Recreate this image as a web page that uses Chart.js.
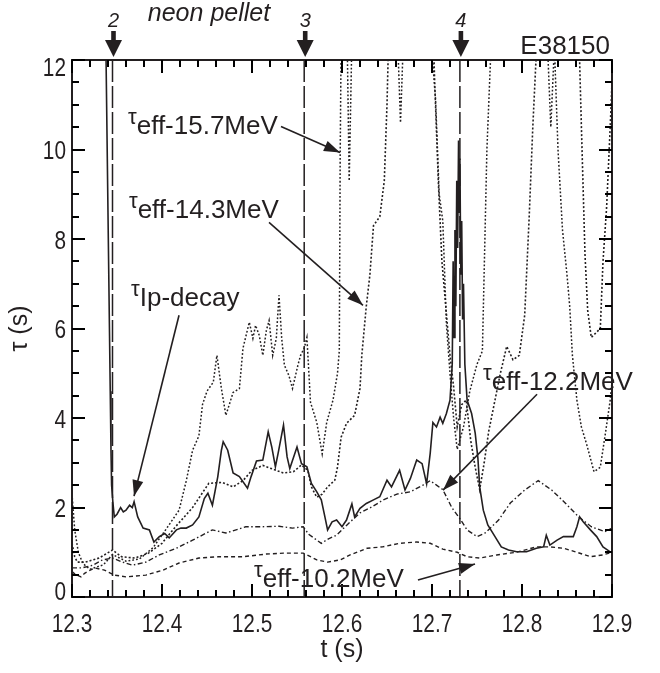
<!DOCTYPE html>
<html>
<head>
<meta charset="utf-8">
<script src="https://cdn.jsdelivr.net/npm/chart.js@4.4.1/dist/chart.umd.min.js"></script>
<style>
  body { margin: 0; background: #fff; }
  #c { display: block; }
</style>
</head>
<body>
<canvas id="c" width="660" height="673"></canvas>
<script>
// axis ticks
const xTicks = [12.3, 12.4, 12.5, 12.6, 12.7, 12.8, 12.9];
const yTicks = [0, 2, 4, 6, 8, 10, 12];

// neon pellet times (s)
const pelletNames = ["2", "3", "4"];
const pelletTimes = [12.345, 12.558, 12.731];

// tau from plasma current decay (solid)
const tIp = [12.3376, 12.3425, 12.3433, 12.344, 12.3455, 12.347, 12.350, 12.354, 12.357, 12.360,
  12.364, 12.367, 12.369, 12.373, 12.379, 12.386, 12.391, 12.397, 12.403, 12.408,
  12.416, 12.421, 12.427, 12.434, 12.441, 12.447, 12.451, 12.456, 12.462, 12.466,
  12.468, 12.473, 12.479, 12.486, 12.495, 12.499, 12.505, 12.512, 12.518, 12.522,
  12.526, 12.529, 12.535, 12.539, 12.542, 12.550, 12.555, 12.561, 12.566, 12.572,
  12.577, 12.581, 12.584, 12.589, 12.594, 12.600, 12.605, 12.611, 12.614, 12.620,
  12.627, 12.635, 12.642, 12.650, 12.655, 12.664, 12.670, 12.676, 12.683, 12.689,
  12.694, 12.698, 12.701, 12.705, 12.709, 12.712, 12.716, 12.720, 12.7225, 12.7235,
  12.7245, 12.7255, 12.7265, 12.7275, 12.7285, 12.7295, 12.7302, 12.731, 12.732, 12.733,
  12.734, 12.735, 12.7365, 12.739,
  12.744, 12.748, 12.751, 12.753, 12.757, 12.762, 12.770, 12.777, 12.785, 12.794,
  12.805, 12.816, 12.824, 12.827, 12.831, 12.839, 12.846, 12.857, 12.861, 12.864,
  12.868, 12.876, 12.883, 12.890, 12.898, 12.900];
const tauIp = [12.4, 4.6, 3.3, 2.5, 2.1, 1.79, 1.85, 2.0, 1.9, 1.94,
  2.05, 2.0, 2.13, 1.79, 1.54, 1.5, 1.23, 1.35, 1.42, 1.32,
  1.5, 1.54, 1.54, 1.61, 1.79, 2.2, 2.32, 2.05, 2.69, 3.28,
  3.47, 3.28, 2.77, 2.69, 2.43, 2.69, 3.04, 3.06, 3.69, 3.35,
  2.91, 3.21, 3.84, 3.13, 2.87, 3.35, 2.98, 2.91, 2.54, 2.35,
  2.17, 1.79, 1.5, 1.68, 1.72, 1.57, 1.72, 2.08, 1.79, 1.98,
  2.09, 2.17, 2.24, 2.61, 2.46, 2.83, 2.39, 2.65, 3.06, 2.98,
  2.53, 3.21, 3.9, 3.8, 4.02, 3.88, 4.1, 4.4, 5.2, 7.5,
  5.8, 8.2, 6.5, 9.3, 7.8, 10.2, 8.6, 9.8, 7.2, 8.4,
  6.2, 7.0, 5.2, 4.4,
  4.1, 3.66, 3.1, 2.46, 1.94, 1.61, 1.35, 1.12, 1.05, 1.01,
  1.01, 1.09, 1.12, 1.38, 1.16, 1.27, 1.35, 1.35, 1.57, 1.79,
  1.68, 1.5, 1.35, 1.12, 1.01, 1.0];

// tau_eff 10.2 MeV (dashed)
const t10 = [12.300, 12.304, 12.310, 12.314, 12.325, 12.336, 12.347, 12.360, 12.382, 12.401,
  12.419, 12.441, 12.463, 12.490, 12.516, 12.535, 12.557, 12.572, 12.584, 12.598,
  12.609, 12.628, 12.645, 12.664, 12.683, 12.698, 12.712, 12.728, 12.739, 12.753,
  12.772, 12.794, 12.816, 12.831, 12.846, 12.861, 12.876, 12.890, 12.900];
const tau10 = [0.57, 0.5, 0.45, 0.53, 0.65, 0.6, 0.49, 0.45, 0.49, 0.6,
  0.76, 0.87, 0.9, 0.9, 0.96, 0.98, 0.98, 0.83, 0.78, 0.83,
  0.94, 1.09, 1.12, 1.2, 1.23, 1.2, 1.07, 1.0, 0.9, 0.87,
  0.94, 1.0, 1.12, 1.12, 1.09, 1.0, 0.9, 0.94, 1.0];

// tau_eff 12.2 MeV (dash-dot)
const t12 = [12.300, 12.311, 12.323, 12.334, 12.345, 12.356, 12.367, 12.382, 12.397, 12.416,
  12.434, 12.456, 12.471, 12.493, 12.510, 12.530, 12.545, 12.557, 12.563, 12.570,
  12.577, 12.585, 12.594, 12.605, 12.620, 12.632, 12.646, 12.661, 12.676, 12.690,
  12.698, 12.705, 12.712, 12.722, 12.731, 12.739, 12.750, 12.759, 12.774, 12.787,
  12.803, 12.818, 12.833, 12.848, 12.863, 12.877, 12.892, 12.900];
const tau12 = [0.65, 0.65, 0.71, 0.83, 0.87, 0.78, 0.71, 0.78, 0.94, 1.09,
  1.27, 1.5, 1.43, 1.57, 1.57, 1.58, 1.54, 1.57, 1.4, 1.3,
  1.2, 1.3, 1.38, 1.6, 1.88, 2.0, 2.17, 2.3, 2.35, 2.5,
  2.6, 2.5, 2.4, 2.0, 1.75, 1.5, 1.35, 1.43, 1.72, 2.1,
  2.39, 2.6, 2.39, 2.1, 1.79, 1.57, 1.46, 1.54];

// tau_eff 14.3 MeV (dotted)
const t14 = [12.300, 12.303, 12.306, 12.315, 12.330, 12.345, 12.355, 12.370, 12.385, 12.400,
  12.415, 12.434, 12.452, 12.467, 12.479, 12.490, 12.500, 12.512, 12.520, 12.535,
  12.546, 12.555, 12.562, 12.566, 12.572, 12.578, 12.584, 12.592, 12.595, 12.599,
  12.605, 12.614, 12.620, 12.622, 12.627, 12.631, 12.635, 12.642, 12.647, 12.650,
  12.653, 12.700, 12.703, 12.707, 12.711, 12.717, 12.720, 12.724, 12.728, 12.733,
  12.738, 12.743, 12.748, 12.753, 12.758, 12.763, 12.770, 12.776, 12.783, 12.790,
  12.797, 12.803, 12.808, 12.812, 12.816, 12.820, 12.862, 12.866, 12.870, 12.873,
  12.877, 12.882, 12.887, 12.890, 12.894, 12.898, 12.900];
const tau14 = [1.2, 0.9, 0.78, 0.78, 0.87, 1.05, 0.9, 0.87, 0.98, 1.2,
  1.57, 2.0, 2.54, 2.56, 2.46, 2.6, 2.83, 2.94, 2.88, 2.77,
  2.8, 2.95, 2.83, 2.46, 2.23, 2.3, 2.46, 2.61, 2.9, 3.57,
  3.88, 4.06, 4.66, 5.4, 6.5, 7.2, 8.3, 8.5, 9.3, 11.0,
  13.5, 13.5, 11.5, 9.3, 7.5, 6.1, 5.4, 4.7, 3.8, 4.3,
  4.4, 3.5, 2.9, 2.4, 3.0, 3.7, 4.4, 5.0, 5.6, 5.3,
  5.4, 6.3, 8.5, 10.5, 12.2, 13.5, 13.5, 10.5, 7.65, 6.4,
  5.8, 5.9, 6.0, 7.5, 8.7, 10.5, 11.5];

// tau_eff 15.7 MeV (fine dotted)
const t15 = [12.300, 12.303, 12.307, 12.312, 12.320, 12.335, 12.345, 12.360, 12.375, 12.390,
  12.404, 12.419, 12.427, 12.434, 12.441, 12.445, 12.450, 12.457, 12.461, 12.466,
  12.471, 12.479, 12.486, 12.490, 12.497, 12.501, 12.504, 12.508, 12.512, 12.516,
  12.519, 12.523, 12.527, 12.530, 12.533, 12.536, 12.541, 12.545, 12.551, 12.554,
  12.558, 12.561, 12.565, 12.572, 12.578, 12.583, 12.590, 12.595, 12.597, 12.598,
  12.5995, 12.605, 12.608, 12.612, 12.660, 12.665, 12.670, 12.698, 12.701, 12.704,
  12.708, 12.712, 12.716, 12.720, 12.724, 12.728, 12.735, 12.742, 12.750, 12.756,
  12.761, 12.766, 12.770, 12.826, 12.832, 12.836, 12.840, 12.845, 12.850, 12.853,
  12.856, 12.861, 12.866, 12.872, 12.880, 12.887, 12.893, 12.898, 12.900];
const tau15 = [2.3, 1.5, 1.0, 0.75, 0.62, 0.72, 0.95, 0.8, 0.85, 1.1,
  1.5, 1.94, 2.6, 3.28, 3.6, 4.3, 4.6, 4.8, 5.4, 4.66,
  4.06, 4.57, 4.66, 5.56, 6.14, 5.78, 6.07, 5.85, 5.4, 5.96,
  6.18, 5.4, 5.78, 6.74, 5.78, 5.18, 4.95, 4.66, 5.18, 5.4,
  5.56, 5.8, 4.35, 3.9, 3.2, 3.9, 4.4, 5.0, 5.5, 9.9,
  13.5, 13.5, 9.3, 13.5, 13.5, 10.6, 13.5, 13.5, 11.9, 11.1,
  9.0, 8.4, 6.1, 5.0, 4.0, 3.3, 3.8, 4.6, 5.2, 5.5,
  10.0, 12.5, 13.5, 13.5, 10.5, 12.3, 10.0, 8.2, 7.2, 6.5,
  5.4, 4.4, 3.8, 3.4, 2.8, 2.9, 3.7, 4.4, 4.8];

// curve labels: text position and arrow (from -> to) in data units
const notes = [
  { sub: "eff-15.7MeV", at: [12.3622, 10.357], from: [12.5322, 10.513], to: [12.5978, 9.933] },
  { sub: "eff-14.3MeV", at: [12.3633, 8.46], from: [12.5189, 8.371], to: [12.6233, 6.518] },
  { sub: "Ip-decay", at: [12.3656, 6.496], from: [12.4189, 6.295], to: [12.3689, 2.254] },
  { sub: "eff-12.2MeV", at: [12.7567, 4.621], from: [12.8167, 4.531], to: [12.7122, 2.388] },
  { sub: "eff-10.2MeV", at: [12.5022, 0.223], from: [12.6844, 0.379], to: [12.7478, 0.737] }
];

const INK = "#231f20";
const FONT = "'Liberation Sans', Arial, sans-serif";

function pts(ts, vs) {
  return ts.map((t, i) => ({ x: t, y: vs[i] }));
}

function line(label, ts, vs, dash, width) {
  return {
    label: label,
    data: pts(ts, vs),
    borderColor: INK,
    borderWidth: width,
    borderDash: dash,
    pointRadius: 0,
    tension: 0,
    fill: false
  };
}

function arrowHead(ctx, x0, y0, x1, y1, len, half) {
  const a = Math.atan2(y1 - y0, x1 - x0);
  ctx.beginPath();
  ctx.moveTo(x1, y1);
  ctx.lineTo(x1 - len * Math.cos(a) + half * Math.sin(a), y1 - len * Math.sin(a) - half * Math.cos(a));
  ctx.lineTo(x1 - len * Math.cos(a) - half * Math.sin(a), y1 - len * Math.sin(a) + half * Math.cos(a));
  ctx.closePath();
  ctx.fill();
}

// narrow numbers, like the condensed face of the original
function narrowText(ctx, s, px, py, align) {
  ctx.save();
  ctx.translate(px, py);
  ctx.scale(0.8, 1);
  ctx.textAlign = align;
  ctx.fillText(s, 0, 0);
  ctx.restore();
}

const deco = {
  id: "deco",
  afterDraw(chart) {
    const ctx = chart.ctx;
    const a = chart.chartArea;
    const x = chart.scales.x;
    const y = chart.scales.y;
    ctx.save();
    ctx.setLineDash([]);
    ctx.globalAlpha = 1;
    ctx.strokeStyle = INK;
    ctx.fillStyle = INK;

    // pellet lines
    ctx.lineWidth = 1.5;
    ctx.setLineDash([22, 4]);
    pelletTimes.forEach(t => {
      const px = x.getPixelForValue(t);
      ctx.beginPath();
      ctx.moveTo(px, a.top);
      ctx.lineTo(px, a.bottom);
      ctx.stroke();
    });
    ctx.setLineDash([]);

    // frame
    ctx.lineWidth = 2;
    ctx.strokeRect(a.left, a.top, a.right - a.left, a.bottom - a.top);

    // inward ticks on all four sides
    ctx.fillStyle = "#000";
    const xMinor = [];
    for (let k = 0; k <= 30; k++) xMinor.push(12.3 + k * 0.02);
    xMinor.forEach((v, k) => {
      const px = Math.round(x.getPixelForValue(v));
      const len = k % 5 === 0 ? 13 : 7;
      ctx.fillRect(px - 1, a.bottom - len, 2, len);
      ctx.fillRect(px - 1, a.top, 2, len);
    });
    const yMinor = [];
    for (let k = 0; k <= 24; k++) yMinor.push(k * 0.5);
    yMinor.forEach((v, k) => {
      const py = Math.round(y.getPixelForValue(v));
      const len = k % 4 === 0 ? 13 : 7;
      ctx.fillRect(a.left, py - 1, len, 2);
      ctx.fillRect(a.right - len, py - 1, len, 2);
    });
    ctx.fillStyle = INK;

    // tick numbers from the scales' own ticks
    ctx.textBaseline = "alphabetic";
    ctx.font = "26px " + FONT;
    x.ticks.forEach(tk => {
      narrowText(ctx, tk.value.toFixed(1), x.getPixelForValue(tk.value), a.bottom + 35, "center");
    });
    y.ticks.forEach(tk => {
      let by = y.getPixelForValue(tk.value) + 9.5;
      by = Math.min(Math.max(by, a.top + 16), a.bottom + 3);
      narrowText(ctx, String(tk.value), a.left - 6, by, "right");
    });

    // pellet arrows above the frame
    ctx.textAlign = "center";
    pelletTimes.forEach((t, i) => {
      const px = x.getPixelForValue(t) + 1;
      ctx.fillRect(px - 2.3, a.top - 29, 4.6, 11);
      ctx.beginPath();
      ctx.moveTo(px - 8.5, a.top - 20);
      ctx.lineTo(px + 8.5, a.top - 20);
      ctx.lineTo(px, a.top - 3);
      ctx.closePath();
      ctx.fill();
      ctx.font = "italic 20px " + FONT;
      ctx.fillText(pelletNames[i], px, a.top - 33);
    });
    ctx.font = "italic 25px " + FONT;
    ctx.fillText("neon pellet", x.getPixelForValue(12.4522), a.top - 39);
    ctx.textAlign = "right";
    ctx.font = "26px " + FONT;
    ctx.fillText("E38150", a.right - 2, a.top - 6);

    // curve labels with arrows
    ctx.textAlign = "left";
    notes.forEach(n => {
      const lx = x.getPixelForValue(n.at[0]);
      const ly = y.getPixelForValue(n.at[1]);
      ctx.font = "22px " + FONT;
      ctx.fillText("τ", lx, ly - 10);
      const w = ctx.measureText("τ").width;
      ctx.font = "26px " + FONT;
      ctx.fillText(n.sub, lx + w, ly);

      const x0 = x.getPixelForValue(n.from[0]), y0 = y.getPixelForValue(n.from[1]);
      const x1 = x.getPixelForValue(n.to[0]), y1 = y.getPixelForValue(n.to[1]);
      ctx.lineWidth = 1.6;
      ctx.beginPath();
      ctx.moveTo(x0, y0);
      ctx.lineTo(x1, y1);
      ctx.stroke();
      arrowHead(ctx, x0, y0, x1, y1, 16, 5.5);
    });
    ctx.restore();
  }
};

new Chart(document.getElementById("c"), {
  type: "line",
  data: {
    datasets: [
      line("tau Ip-decay", tIp, tauIp, [], 1.6),
      line("tau eff 10.2MeV", t10, tau10, [4, 3], 1.4),
      line("tau eff 12.2MeV", t12, tau12, [5, 2.5, 1.5, 2.5], 1.4),
      line("tau eff 14.3MeV", t14, tau14, [2, 2], 1.6),
      line("tau eff 15.7MeV", t15, tau15, [1.8, 2], 1.5)
    ]
  },
  options: {
    responsive: false,
    animation: false,
    events: [],
    layout: { padding: { top: 60, right: 48, left: 0, bottom: 0 } },
    plugins: { legend: { display: false }, tooltip: { enabled: false } },
    scales: {
      x: {
        type: "linear",
        min: 12.3,
        max: 12.9,
        afterFit(s) { s.height = 76; },
        afterBuildTicks(s) { s.ticks = xTicks.map(v => ({ value: v })); },
        grid: { display: false, drawTicks: false },
        border: { display: false },
        ticks: { display: false },
        title: {
          display: true,
          text: "t (s)",
          color: INK,
          font: { family: FONT, size: 25 },
          padding: { top: 0, bottom: 8 }
        }
      },
      y: {
        type: "linear",
        min: 0,
        max: 12,
        afterFit(s) { s.width = 72; },
        afterBuildTicks(s) { s.ticks = yTicks.map(v => ({ value: v })); },
        grid: { display: false, drawTicks: false },
        border: { display: false },
        ticks: { display: false },
        title: {
          display: true,
          text: "τ (s)",
          color: INK,
          font: { family: FONT, size: 25 },
          padding: { top: 5, bottom: 0 }
        }
      }
    }
  },
  plugins: [deco]
});
</script>
</body>
</html>
